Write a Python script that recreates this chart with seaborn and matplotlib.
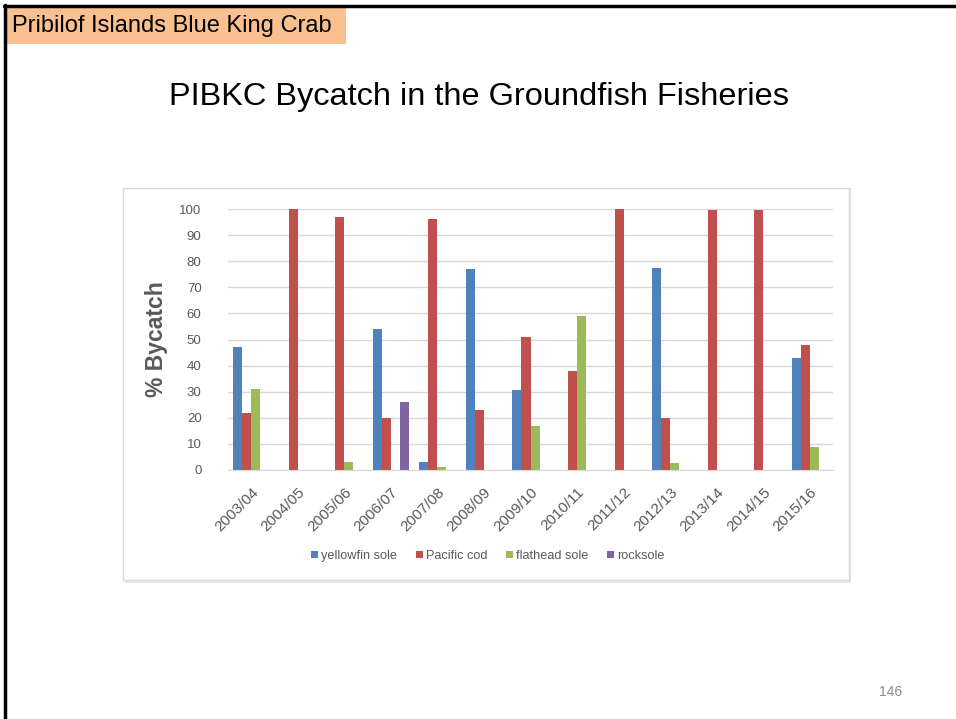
import numpy as np
import pandas as pd
import matplotlib
matplotlib.use('Agg')
import matplotlib.pyplot as plt
from matplotlib.patches import Rectangle
from matplotlib.lines import Line2D
import seaborn as sns

seasons = ['2003/04', '2004/05', '2005/06', '2006/07', '2007/08', '2008/09', '2009/10',
           '2010/11', '2011/12', '2012/13', '2013/14', '2014/15', '2015/16']
species = ['yellowfin sole', 'Pacific cod', 'flathead sole', 'rocksole']
nan = np.nan
yellowfin_sole = [47, nan, nan, 54, 3, 77, 30.5, nan, nan, 77.5, nan, nan, 43]
pacific_cod = [22, 100, 97, 20, 96, 23, 51, 38, 100, 20, 99.5, 99.5, 48]
flathead_sole = [31, nan, 3, nan, 1, nan, 17, 59, nan, 2.5, nan, nan, 9]
rocksole = [nan, nan, nan, 26, nan, nan, nan, nan, nan, nan, nan, nan, nan]
colors = ['#4F81BD', '#C0504D', '#9BBB59', '#8064A2']

rows = []
for name, vals in zip(species, [yellowfin_sole, pacific_cod, flathead_sole, rocksole]):
    for s, v in zip(seasons, vals):
        rows.append({'season': s, 'species': name, 'pct': v})
df = pd.DataFrame(rows)

sns.set_style('white')
plt.rcParams['font.family'] = ['Liberation Sans', 'DejaVu Sans']

W, H = 956, 719
fig = plt.figure(figsize=(W / 100, H / 100), dpi=100)

def fx(px):
    return px / W

def fy(py):
    return 1 - py / H

# slide frame
fig.add_artist(Line2D([fx(4.5), fx(4.5)], [fy(5), 0], color='black', lw=2.5))
fig.add_artist(Line2D([fx(4), 1], [fy(5.5), fy(5.5)], color='black', lw=2.5))

# header tag
fig.add_artist(Rectangle((fx(6), fy(44)), fx(340), fy(7) - fy(44), facecolor='#FAC090',
                         edgecolor='none', zorder=-3))
fig.text(fx(12), fy(26), 'Pribilof Islands Blue King Crab', fontsize=17, color='black',
         va='center', ha='left')

fig.text(fx(479), fy(97), 'PIBKC Bycatch in the Groundfish Fisheries', fontsize=23.4,
         color='black', va='center', ha='center')
fig.text(fx(891), fy(692), '146', fontsize=10, color='#8C8C8C', va='center', ha='center')

# chart box with light shadow
fig.add_artist(Rectangle((fx(125), fy(583)), fx(726), fy(188) - fy(583), facecolor='#E6E6E6',
                         edgecolor='none', zorder=-3))
fig.add_artist(Rectangle((fx(123), fy(580)), fx(726), fy(188) - fy(580), facecolor='white',
                         edgecolor='#D9D9D9', lw=1, zorder=-2))

ax = fig.add_axes([fx(228), fy(470), fx(833) - fx(228), fy(209) - fy(470)])
sns.barplot(data=df, x='season', y='pct', hue='species', hue_order=species, palette=colors,
            width=0.78, linewidth=0, saturation=1, errorbar=None, ax=ax, legend=False)
ax.set_facecolor('none')
ax.set_ylim(0, 100)
ax.set_xlim(-0.5, len(seasons) - 0.5)
ax.set_yticks(range(0, 101, 10))
ax.yaxis.grid(True, color='#D9D9D9', lw=1)
ax.set_axisbelow(True)
for sp in ax.spines.values():
    sp.set_visible(False)
ax.spines['bottom'].set_visible(True)
ax.spines['bottom'].set_color('#D9D9D9')
ax.tick_params(axis='both', length=0, colors='#595959')
ax.tick_params(axis='y', pad=19, labelsize=9.5)
ax.tick_params(axis='x', pad=11, labelsize=11)
plt.setp(ax.get_xticklabels(), rotation=45, ha='right', rotation_mode='anchor')
ax.set_xlabel('')
ax.set_ylabel('% Bycatch', fontsize=16.5, fontweight='bold', color='#595959', labelpad=8)

handles = [Rectangle((0, 0), 1, 1, facecolor=c, edgecolor='none') for c in colors]
fig.legend(handles, species, loc='center', bbox_to_anchor=(fx(488), fy(556)), ncol=4,
           frameon=False, fontsize=9.2, labelcolor='#595959', handlelength=0.55,
           handleheight=0.55, handletextpad=0.25, columnspacing=1.45)

fig.savefig('out.png', dpi=100)
